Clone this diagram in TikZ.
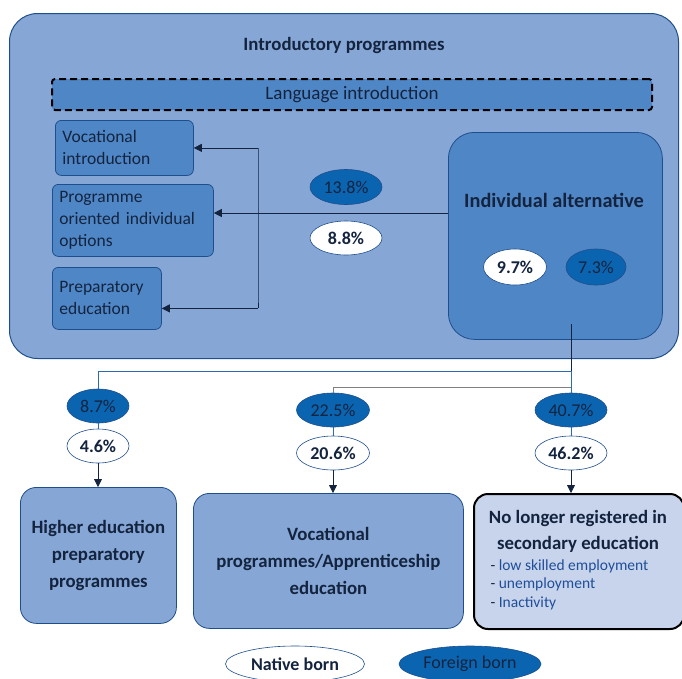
\documentclass[tikz,border=0pt]{standalone}
\usepackage{fontspec}
\setmainfont{Carlito}
\usetikzlibrary{positioning,calc,arrows.meta,shapes.geometric}
\definecolor{outerfill}{HTML}{86A7D6}
\definecolor{midfill}{HTML}{4F86C6}
\definecolor{darkfill}{HTML}{0B64B0}
\definecolor{edgeblue}{HTML}{1F4E8C}
\definecolor{navy}{HTML}{14243F}
\definecolor{palefill}{HTML}{C8D4EB}
\definecolor{listblue}{HTML}{1F4E9A}
\definecolor{linkblue}{HTML}{2E6BAE}
\begin{document}
\begin{tikzpicture}[x=1pt,y=-1pt,
  txt/.style={font=\fontsize{17.5}{22}\selectfont,text=navy},
  smallbox/.style={txt,draw=edgeblue,fill=midfill,line width=0.8pt,rounded corners=6pt,align=left,inner xsep=7pt,anchor=north west},
  endbox/.style={txt,font=\fontsize{18.8}{27}\selectfont\bfseries,draw=edgeblue,fill=outerfill,line width=0.8pt,rounded corners=16pt,align=center,anchor=north west},
  fb/.style={ellipse,txt,font=\fontsize{18}{22}\selectfont,fill=darkfill,draw=edgeblue,line width=0.6pt,inner sep=0pt,minimum width=72pt,minimum height=34pt},
  nb/.style={fb,fill=white,font=\fontsize{18}{22}\selectfont\bfseries},
  arr/.style={line width=0.8pt,draw=navy,-{Triangle[length=8pt,width=8pt]}},
  link/.style={line width=1pt,draw=linkblue}]
\useasboundingbox (0,0) rectangle (682,678);
\node[draw=edgeblue,fill=outerfill,line width=1pt,rounded corners=28pt,minimum width=669pt,minimum height=345pt,anchor=north west] (intro) at (9,13) {};
\node[txt,font=\fontsize{18.8}{22}\selectfont\bfseries] (introtitle) at (344,45) {Introductory programmes};
\node[txt,font=\fontsize{19}{22}\selectfont,draw=black,fill=midfill,line width=2pt,dash pattern=on 7pt off 4pt,rounded corners=3pt,minimum width=600pt,minimum height=31pt,anchor=north west] (lang) at (51,78) {Language introduction};
\node[smallbox,text width=124pt,minimum height=55pt] (voc) at (55,120) {Vocational\\introduction};
\node[smallbox,text width=147pt,minimum height=72pt] (prog) at (52,184) {Programme\\oriented individual\\options};
\node[smallbox,text width=95pt,minimum height=62pt] (prep) at (52,267) {Preparatory\\education};
\node[draw=edgeblue,fill=midfill,line width=0.8pt,rounded corners=26pt,minimum width=214pt,minimum height=207pt,anchor=north west] (indiv) at (448,132) {};
\node[txt,font=\fontsize{20.3}{22}\selectfont\bfseries] (indivtitle) at (554,200) {Individual alternative};
\node[nb,minimum width=63pt,minimum height=36pt] (e97) at (515,267) {9.7\%};
\node[fb,minimum width=60pt,minimum height=36pt] (e73) at (596,267) {7.3\%};
\coordinate (j) at (258,213);
\draw[arr] (indiv.west |- j) -- (prog.east |- j);
\draw[line width=0.8pt,draw=navy] (j |- voc.east) -- (j |- prep.east) -- ++(0,10) coordinate (jb);
\draw[arr] (j |- voc.east) -- (voc.east);
\draw[arr] (jb) -- (prep.east |- jb);
\node[fb,minimum height=35pt] (e138) at (346,187) {13.8\%};
\node[nb] (e88) at (346,238) {8.8\%};
\node[endbox,minimum width=156pt,minimum height=136pt] (hiedu) at (20,487) {Higher education\\preparatory\\programmes};
\node[endbox,minimum width=270pt,minimum height=135pt] (vocprog) at (193,493) {Vocational\\programmes/Apprenticeship\\education};
\node[endbox,draw=black,line width=2pt,fill=palefill,rounded corners=14pt,minimum width=210pt,minimum height=135pt] (nolonger) at (473,493) {};
\node[txt,font=\fontsize{18.8}{26}\selectfont\bfseries,align=center] (nolongertitle) at (578,531) {No longer registered in\\secondary education};
\node[txt,font=\fontsize{15.5}{18.5}\selectfont,align=left,anchor=north west] (nolongerlist) at (487,556) {- \textcolor{listblue}{low skilled employment}\\- \textcolor{listblue}{unemployment}\\- \textcolor{listblue}{Inactivity}};
\coordinate (s) at (571,324);
\coordinate (t1) at (571,371);
\coordinate (t2) at (571,387);
\node[fb,minimum width=62pt] (e87) at (98,406) {8.7\%};
\node[nb,minimum width=62pt] (e46) at (98,446) {4.6\%};
\node[fb,minimum width=73pt] (e225) at (333,410) {22.5\%};
\node[nb,minimum width=73pt] (e206) at (333,453) {20.6\%};
\node[fb,minimum width=72pt] (e407) at (571,410) {40.7\%};
\node[nb,minimum width=72pt] (e462) at (571,453) {46.2\%};
\draw[line width=0.8pt,draw=navy] (s) -- (t1);
\draw[link] (t1) -- (e407);
\draw[link] (t1) -| (e87);
\draw[line width=1pt,draw=gray] (t2) -| (e225);
\draw[link] (e87) -- (e46);
\draw[link] (e225) -- (e206);
\draw[link] (e407) -- (e462);
\draw[arr] (e46) -- (e46 |- hiedu.north);
\draw[arr] (e206) -- (e206 |- vocprog.north);
\draw[arr] (e462) -- (e462 |- nolonger.north);
\node[nb,minimum width=139pt,minimum height=36pt] (native) at (295,664) {Native born};
\node[fb,minimum width=142pt,minimum height=36pt] (foreign) at (470,664) {Foreign born};
\end{tikzpicture}
\end{document}
